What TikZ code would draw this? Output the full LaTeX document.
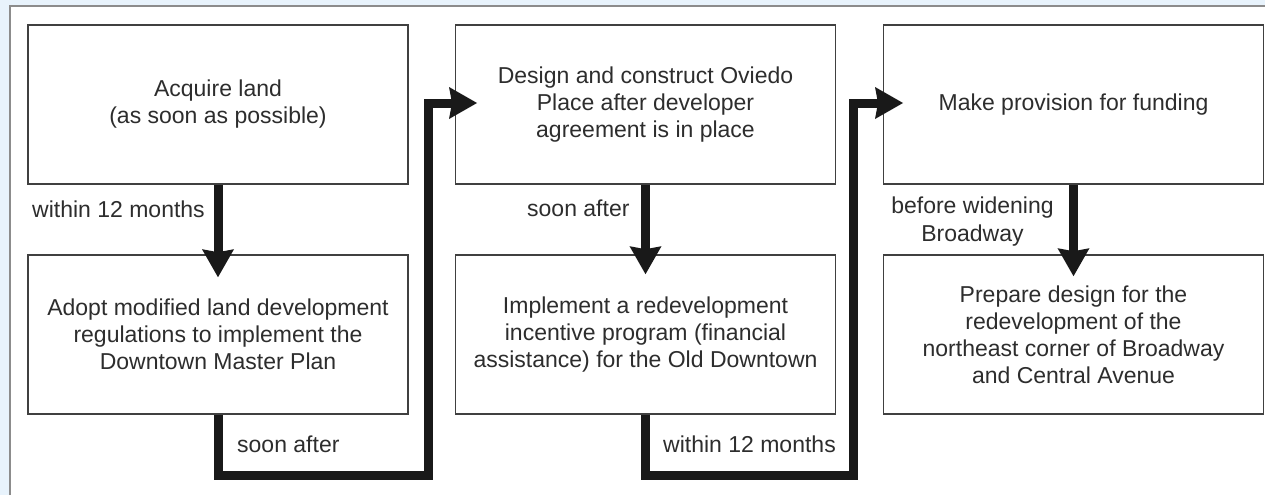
\documentclass[tikz,border=0pt]{standalone}
\usepackage{fontspec}
\setmainfont{Liberation Sans}
\usetikzlibrary{arrows.meta}
\definecolor{bgblue}{RGB}{232,243,252}
\definecolor{txt}{RGB}{45,45,45}
\begin{document}
\begin{tikzpicture}[x=1pt,y=-1pt,
  box/.style={draw=black!75, line width=1.6pt, fill=white, minimum width=380pt, minimum height=159pt, align=center, inner sep=0pt, text=txt, font=\fontsize{23}{27}\selectfont},
  lbl/.style={inner sep=0pt, text=txt, font=\fontsize{23}{28}\selectfont},
  flow/.style={line width=9pt, draw=black!90, line join=miter, -{Stealth[length=28pt,width=32pt,inset=3pt,line width=0pt]}}]
\useasboundingbox (0,0) rectangle (1265,495);
\fill[bgblue] (0,0) rectangle (1265,495);
\fill[white] (10,6) rectangle (1265,495);
\draw[black!45, line width=1.5pt] (10,495) -- (10,6) -- (1265,6);

\node[box] (b1) at (218,104.5) {Acquire land\\(as soon as possible)};
\node[box] (b2) at (218,334.5) {Adopt modified land development\\regulations to implement the\\Downtown Master Plan};
\node[box] (b3) at (645.5,104.5) {Design and construct Oviedo\\Place after developer\\agreement is in place};
\node[box] (b4) at (645.5,334.5) {Implement a redevelopment\\incentive program (financial\\assistance) for the Old Downtown};
\node[box] (b5) at (1073.5,104.5) {Make provision for funding};
\node[box] (b6) at (1073.5,334.5) {Prepare design for the\\redevelopment of the\\northeast corner of Broadway\\and Central Avenue};

\coordinate (j1) at (428,475);
\coordinate (k1) at (428,103);
\coordinate (t1) at (477,103);
\coordinate (j2) at (853,475);
\coordinate (k2) at (853,103);
\coordinate (t2) at (903,103);

\draw[flow] (b1.south) -- ([yshift=-23pt]b2.north);
\draw[flow] (b3.south) -- ([yshift=-20pt]b4.north);
\draw[flow] (b5.south) -- ([yshift=-22pt]b6.north);
\draw[flow] (b2.south) |- (j1) -- (k1) -- (t1);
\draw[flow] (b4.south) |- (j2) -- (k2) -- (t2);

\node[lbl, anchor=base west] (l1) at (32,217) {within 12 months};
\node[lbl, anchor=base west] (l2) at (237,452) {soon after};
\node[lbl, anchor=base west] (l3) at (527,216) {soon after};
\node[lbl, anchor=base west] (l4) at (663,452) {within 12 months};
\node[lbl, anchor=base, align=center] (l5) at (972.5,241) {before widening\\Broadway};
\end{tikzpicture}
\end{document}
